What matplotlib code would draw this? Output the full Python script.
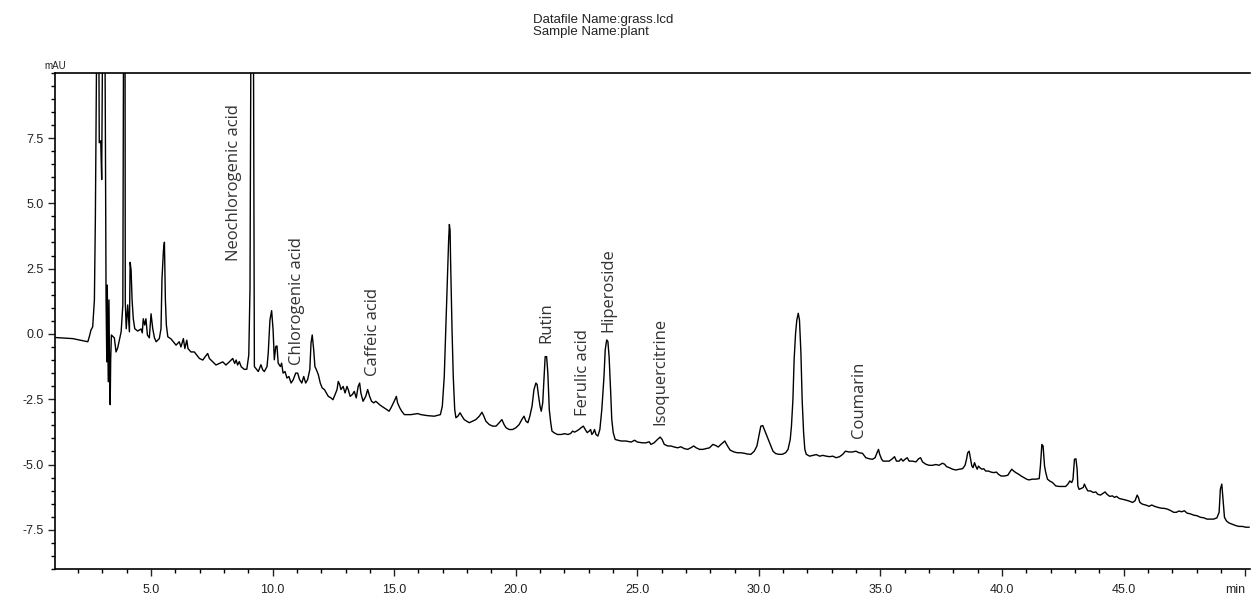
import matplotlib.pyplot as plt
import numpy as np
from matplotlib.ticker import MultipleLocator, FixedLocator

# Trace, split in a few pieces (time in min, signal in mAU)
# values of 12 are off scale (clipped at the top of the plot)
t_front = [1.09, 1.78, 2.40, 2.46, 2.53, 2.60, 2.67, 2.71, 2.77, 2.85, 2.87, 2.93, 2.97, 3.01,
           3.10, 3.12, 3.15, 3.18, 3.20, 3.24, 3.27, 3.30, 3.32, 3.34, 3.37, 3.43, 3.49, 3.56,
           3.63, 3.70, 3.77, 3.84, 3.87, 3.93, 3.94, 3.98, 4.04, 4.11, 4.14, 4.18, 4.22, 4.27,
           4.33, 4.45, 4.59, 4.64, 4.68, 4.74, 4.79, 4.85, 4.93, 5.00, 5.07, 5.14, 5.21, 5.34,
           5.41, 5.45, 5.51, 5.55, 5.59, 5.63, 5.69, 5.82, 6.03, 6.16, 6.23, 6.33, 6.39, 6.47,
           6.52, 6.64, 6.78, 6.88, 6.99, 7.13, 7.22, 7.33, 7.40, 7.54, 7.67, 7.81, 7.95, 8.08,
           8.22, 8.36, 8.44, 8.50, 8.56, 8.63, 8.71, 8.84, 8.94, 9.02, 9.07, 9.11, 9.21, 9.25]
v_front = [-0.14, -0.18, -0.30, -0.11, 0.15, 0.27, 1.30, 4.42, 12.0, 12.0, 7.32, 7.39, 5.91, 12.0,
           12.0, 8.19, 1.33, -1.07, 1.87, -1.83, 1.30, -2.13, -2.71, -0.99, -0.04, -0.10, -0.15, -0.69,
           -0.53, -0.23, 0.08, 1.11, 12.0, 12.0, 1.22, 0.20, 1.11, 0.08, 2.74, 2.44, 1.30, 0.58,
           0.20, 0.11, 0.19, 0.04, 0.58, 0.34, 0.58, -0.04, -0.15, 0.77, 0.20, -0.15, -0.30, -0.18,
           0.20, 2.11, 3.20, 3.51, 1.30, 0.34, -0.11, -0.19, -0.43, -0.30, -0.50, -0.18, -0.56, -0.24,
           -0.56, -0.69, -0.69, -0.81, -0.94, -1.00, -0.88, -0.75, -0.94, -1.07, -1.19, -1.13, -1.07, -1.19,
           -1.07, -0.94, -1.13, -1.00, -1.19, -1.06, -1.26, -1.36, -1.35, -0.81, 1.73, 12.0, 12.0, -1.25]

t_mid = [9.30, 9.41, 9.52, 9.59, 9.66, 9.77, 9.82, 9.89, 9.96, 10.02, 10.07, 10.13, 10.18, 10.23,
         10.32, 10.37, 10.43, 10.51, 10.59, 10.67, 10.76, 10.85, 10.95, 11.03, 11.11, 11.20, 11.28,
         11.36, 11.44, 11.53, 11.58, 11.63, 11.69, 11.74, 11.80, 11.88, 11.96, 12.04, 12.13, 12.21,
         12.29, 12.40, 12.48, 12.57, 12.65, 12.70, 12.76, 12.81, 12.90, 12.98, 13.06, 13.11, 13.19,
         13.28, 13.36, 13.44, 13.52, 13.58, 13.63, 13.72, 13.83, 13.91, 13.99, 14.07, 14.16, 14.24,
         14.32, 14.40, 14.49, 14.59, 14.70, 14.79, 14.87, 15.00, 15.09, 15.14, 15.23, 15.31, 15.42,
         15.69, 15.97, 16.10, 16.38, 16.65, 16.90, 16.98, 17.06, 17.12, 17.20, 17.24, 17.27, 17.30,
         17.32, 17.38, 17.43, 17.49, 17.54]
v_mid = [-1.31, -1.44, -1.18, -1.37, -1.44, -1.25, -0.74, 0.53, 0.89, 0.15, -0.99, -0.48, -0.46, -1.12,
         -1.25, -1.12, -1.50, -1.44, -1.69, -1.63, -1.88, -1.75, -1.50, -1.50, -1.75, -1.88, -1.63,
         -1.88, -1.75, -1.37, -0.35, -0.04, -0.61, -1.25, -1.37, -1.56, -1.88, -2.07, -2.13, -2.26,
         -2.39, -2.45, -2.52, -2.32, -2.13, -1.82, -1.94, -2.13, -2.01, -2.26, -2.01, -2.13, -2.39,
         -2.32, -2.20, -2.45, -2.01, -1.88, -2.26, -2.58, -2.39, -2.13, -2.39, -2.58, -2.64, -2.58,
         -2.64, -2.71, -2.77, -2.83, -2.90, -2.96, -2.83, -2.58, -2.39, -2.64, -2.83, -2.96, -3.09,
         -3.09, -3.05, -3.09, -3.13, -3.15, -3.09, -2.77, -1.63, 0.15, 2.44, 3.58, 4.19, 3.96,
         2.82, 0.15, -1.63, -2.90, -3.21]

t_flav = [17.62, 17.71, 17.79, 17.88, 17.98, 18.09, 18.23, 18.36, 18.50, 18.61, 18.69, 18.77, 18.91,
          19.05, 19.19, 19.32, 19.43, 19.52, 19.60, 19.73, 19.87, 20.01, 20.14, 20.25, 20.34, 20.42,
          20.50, 20.58, 20.67, 20.75, 20.83, 20.88, 20.94, 21.00, 21.05, 21.11, 21.16, 21.21, 21.27,
          21.32, 21.38, 21.44, 21.49, 21.57, 21.71, 21.87, 22.01, 22.15, 22.26, 22.34, 22.42, 22.50,
          22.60, 22.69, 22.78, 22.86, 22.94, 23.02, 23.08, 23.13, 23.19, 23.24, 23.30, 23.38, 23.46,
          23.54, 23.63, 23.68, 23.74, 23.79, 23.84, 23.90, 23.95, 24.01, 24.09, 24.20, 24.34, 24.53,
          24.75, 24.89, 25.00, 25.22, 25.35, 25.49, 25.56]
v_flav = [-3.15, -3.02, -3.15, -3.28, -3.34, -3.40, -3.34, -3.28, -3.15, -3.00, -3.15, -3.34, -3.47,
          -3.53, -3.53, -3.40, -3.28, -3.47, -3.59, -3.66, -3.66, -3.59, -3.47, -3.28, -3.15, -3.34,
          -3.40, -3.15, -2.77, -2.13, -1.88, -1.94, -2.39, -2.77, -2.96, -2.64, -1.75, -0.87, -0.87,
          -1.50, -2.90, -3.40, -3.72, -3.78, -3.85, -3.85, -3.82, -3.85, -3.81, -3.72, -3.76, -3.72,
          -3.66, -3.59, -3.53, -3.66, -3.78, -3.72, -3.66, -3.85, -3.78, -3.66, -3.85, -3.91, -3.66,
          -2.90, -1.63, -0.61, -0.23, -0.29, -0.87, -2.13, -3.28, -3.78, -4.04, -4.07, -4.10, -4.10,
          -4.14, -4.07, -4.14, -4.17, -4.17, -4.13, -4.23]

t_late = [25.69, 25.83, 25.94, 26.02, 26.11, 26.25, 26.38, 26.52, 26.66, 26.79, 26.93, 27.07, 27.20,
          27.32, 27.42, 27.56, 27.70, 27.83, 27.97, 28.11, 28.22, 28.33, 28.44, 28.60, 28.71, 28.82,
          28.98, 29.12, 29.26, 29.40, 29.54, 29.67, 29.81, 29.92, 30.00, 30.08, 30.16, 30.25, 30.33,
          30.41, 30.49, 30.58, 30.69, 30.82, 30.96, 31.10, 31.20, 31.29, 31.34, 31.40, 31.45, 31.51,
          31.56, 31.62, 31.67, 31.73, 31.78, 31.84, 31.89, 31.95, 32.09, 32.22, 32.36, 32.50, 32.63,
          32.77, 32.91, 33.04, 33.18, 33.32, 33.45, 33.56]
v_late = [-4.17, -4.04, -3.95, -4.04, -4.23, -4.29, -4.29, -4.33, -4.36, -4.32, -4.39, -4.42, -4.36,
          -4.29, -4.36, -4.42, -4.42, -4.39, -4.36, -4.23, -4.27, -4.33, -4.23, -4.10, -4.29, -4.45,
          -4.52, -4.55, -4.55, -4.57, -4.60, -4.61, -4.49, -4.29, -3.91, -3.53, -3.51, -3.72, -3.91,
          -4.10, -4.29, -4.49, -4.58, -4.61, -4.61, -4.55, -4.42, -4.04, -3.53, -2.52, -0.99, 0.03,
          0.53, 0.79, 0.53, -0.74, -2.52, -3.78, -4.42, -4.61, -4.68, -4.65, -4.62, -4.68, -4.65,
          -4.68, -4.70, -4.68, -4.74, -4.70, -4.61, -4.49]

t_tail = [33.71, 33.85, 33.99, 34.12, 34.26, 34.40, 34.54, 34.67, 34.78, 34.86, 34.92, 34.97, 35.05,
          35.11, 35.22, 35.36, 35.49, 35.58, 35.66, 35.77, 35.85, 35.93, 36.01, 36.10, 36.18, 36.32,
          36.46, 36.57, 36.65, 36.73, 36.87, 37.00, 37.14, 37.28, 37.41, 37.55, 37.64, 37.72, 37.83,
          37.97, 38.10, 38.24, 38.38, 38.48, 38.54, 38.59, 38.65, 38.70, 38.76, 38.81, 38.87, 38.92,
          38.98, 39.03, 39.09, 39.17, 39.25, 39.33, 39.44, 39.55, 39.66, 39.77, 39.85, 39.96, 40.10,
          40.24, 40.32, 40.40, 40.48, 40.57, 40.68, 40.79, 40.90, 41.01, 41.11, 41.25, 41.39, 41.53,
          41.58, 41.64, 41.69, 41.75, 41.80, 41.87, 41.96, 42.08, 42.21, 42.35, 42.49, 42.62, 42.71,
          42.79, 42.87, 42.92, 42.98, 43.04, 43.09, 43.12, 43.17, 43.25, 43.34, 43.39, 43.45, 43.53,
          43.64, 43.75, 43.86, 43.94, 44.05, 44.16, 44.24, 44.32, 44.43, 44.54, 44.63, 44.71, 44.82,
          44.96, 45.09, 45.23, 45.37, 45.47, 45.56, 45.61, 45.67, 45.78, 45.91, 46.05, 46.16, 46.27,
          46.41, 46.54, 46.68, 46.81, 46.95, 47.06, 47.17, 47.28, 47.39, 47.50, 47.61, 47.75, 47.89,
          48.02, 48.16, 48.30, 48.43, 48.57, 48.71, 48.84, 48.93, 48.98, 49.04, 49.09, 49.15, 49.23,
          49.34, 49.48, 49.62, 49.75, 49.89, 50.02, 50.16]
v_tail = [-4.52, -4.52, -4.49, -4.55, -4.57, -4.74, -4.78, -4.80, -4.74, -4.55, -4.42, -4.61, -4.80,
          -4.87, -4.87, -4.87, -4.78, -4.70, -4.87, -4.87, -4.78, -4.87, -4.80, -4.74, -4.87, -4.87,
          -4.90, -4.78, -4.74, -4.90, -4.99, -5.03, -5.03, -5.00, -5.03, -4.95, -4.99, -5.08, -5.12,
          -5.18, -5.21, -5.18, -5.16, -5.03, -4.80, -4.55, -4.49, -4.74, -5.06, -5.12, -4.93, -5.06,
          -5.18, -5.06, -5.12, -5.18, -5.16, -5.25, -5.25, -5.29, -5.31, -5.29, -5.37, -5.44, -5.44,
          -5.41, -5.29, -5.18, -5.25, -5.31, -5.37, -5.44, -5.50, -5.56, -5.59, -5.56, -5.56, -5.54,
          -5.06, -4.23, -4.29, -5.06, -5.31, -5.56, -5.63, -5.69, -5.82, -5.84, -5.84, -5.84, -5.75,
          -5.63, -5.69, -5.56, -4.80, -4.78, -5.18, -5.82, -5.95, -5.92, -5.88, -5.75, -5.88, -6.01,
          -6.01, -6.07, -6.05, -6.14, -6.17, -6.10, -6.05, -6.14, -6.22, -6.20, -6.26, -6.22, -6.30,
          -6.33, -6.36, -6.40, -6.45, -6.39, -6.17, -6.26, -6.45, -6.52, -6.55, -6.60, -6.55, -6.60,
          -6.64, -6.67, -6.68, -6.71, -6.77, -6.83, -6.83, -6.78, -6.81, -6.77, -6.86, -6.89, -6.94,
          -6.96, -7.02, -7.04, -7.09, -7.09, -7.09, -7.04, -6.83, -5.95, -5.75, -6.33, -7.02, -7.16,
          -7.24, -7.29, -7.34, -7.37, -7.37, -7.40, -7.40]

# peak labels: name, retention time, signal level where the label starts
peak_names = ['Neochlorogenic acid', 'Chlorogenic acid', 'Caffeic acid', 'Rutin',
              'Ferulic acid', 'Hiperoside', 'Isoquercitrine', 'Coumarin']
peak_times = [8.43, 11.00, 14.14, 21.24, 22.75, 23.81, 25.94, 34.12]
peak_levels = [2.81, -1.18, -1.63, -0.35, -3.15, 0.09, -3.47, -3.98]

x_ticks = [5, 10, 15, 20, 25, 30, 35, 40, 45, 50]
x_ticklabels = ['5.0', '10.0', '15.0', '20.0', '25.0', '30.0', '35.0', '40.0', '45.0', 'min']
y_ticks = [-7.5, -5.0, -2.5, 0.0, 2.5, 5.0, 7.5]

time = np.concatenate([t_front, t_mid, t_flav, t_late, t_tail])
signal = np.concatenate([v_front, v_mid, v_flav, v_late, v_tail])

plt.rcParams['font.family'] = ['Liberation Sans', 'DejaVu Sans']

fig = plt.figure(figsize=(12.53, 5.95), dpi=100)
ax = fig.add_axes([0.0439, 0.0437, 0.9537, 0.8341])

ax.plot(time, signal, color='black', lw=1.0)

ax.set_xlim(1.05, 50.2)
ax.set_ylim(-9.0, 10.0)

ax.xaxis.set_major_locator(FixedLocator(x_ticks))
ax.set_xticklabels(x_ticklabels)
ax.xaxis.set_minor_locator(MultipleLocator(1))
ax.yaxis.set_major_locator(FixedLocator(y_ticks))
ax.yaxis.set_major_formatter(plt.FuncFormatter(lambda v, p: '%.1f' % v))
ax.yaxis.set_minor_locator(MultipleLocator(0.5))

ax.tick_params(axis='both', which='major', direction='out', length=5, width=1.0,
               labelsize=9, colors='#222222')
ax.tick_params(axis='x', which='major', pad=6)
ax.tick_params(axis='y', which='major', pad=3)
ax.tick_params(axis='both', which='minor', direction='out', length=3, width=1.0)

# the "min" unit label sits flush with the right edge
ax.get_xticklabels()[-1].set_horizontalalignment('right')
ax.get_xticklabels()[-1].set_x(50.3)

for side in ['left', 'bottom', 'top']:
    ax.spines[side].set_linewidth(1.2)
ax.spines['right'].set_visible(False)

for name, t, lvl in zip(peak_names, peak_times, peak_levels):
    ax.text(t, lvl, name, rotation=90, ha='center', va='bottom', fontsize=12,
            family='Open Sans', color='#333333')

ax.text(0.0, 1.003, 'mAU', transform=ax.transAxes, ha='center', va='bottom',
        fontsize=7, color='#222222')

fig.text(0.4254, 0.977, 'Datafile Name:grass.lcd\nSample Name:plant', ha='left', va='top',
         fontsize=9.5, linespacing=1.0, color='#222222')

fig.savefig('out.png', dpi=100)
